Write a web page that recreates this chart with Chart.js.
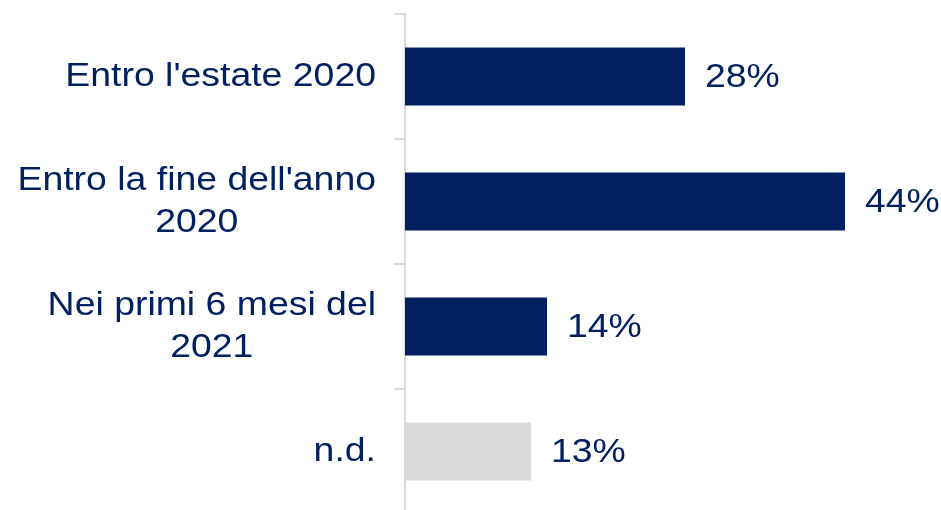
<!DOCTYPE html>
<html>
<head>
<meta charset="utf-8">
<script src="https://cdn.jsdelivr.net/npm/chart.js@4.4.0/dist/chart.umd.min.js"></script>
<style>
  html, body { margin: 0; padding: 0; background: #fff; overflow: hidden; }
  #wrap { width: 941px; height: 520px; }
</style>
</head>
<body>
<div id="wrap"><canvas id="barChart" width="941" height="520"></canvas></div>
<script>
// --- DATI ---
const categories = [
  ["Entro l'estate 2020"],
  ["Entro la fine dell'anno", "2020"],
  ["Nei primi 6 mesi del", "2021"],
  ["n.d."]
];
const values = [28, 44, 14.2, 12.6];
const barColors = ['#002060', '#002060', '#002060', '#D9D9D9'];

const NAVY = '#002060';
const FONT = "34px 'Liberation Sans', Arial, sans-serif";
const STRETCH = 1.1; // testo leggermente allargato come nell'originale

// etichette categorie: blocco allineato a destra, righe centrate tra loro
const catLabels = {
  id: 'catLabels',
  afterDraw(chart) {
    const ctx = chart.ctx;
    const y = chart.scales.y;
    const right = 376;
    const lh = 42;
    ctx.save();
    ctx.font = FONT;
    ctx.fillStyle = NAVY;
    ctx.textAlign = 'center';
    ctx.textBaseline = 'middle';
    categories.forEach((lines, i) => {
      const widest = Math.max(...lines.map(l => ctx.measureText(l).width)) * STRETCH;
      const cx = right - widest / 2;
      const cy = y.getPixelForValue(i);
      lines.forEach((line, j) => {
        const ly = cy + (j - (lines.length - 1) / 2) * lh;
        ctx.save();
        ctx.translate(cx, ly);
        ctx.scale(STRETCH, 1);
        ctx.fillText(line, 0, 0);
        ctx.restore();
      });
    });
    ctx.restore();
  }
};

// etichette valori a destra delle barre
const valueLabels = {
  id: 'valueLabels',
  afterDatasetsDraw(chart) {
    const ctx = chart.ctx;
    const meta = chart.getDatasetMeta(0);
    ctx.save();
    ctx.font = FONT;
    ctx.fillStyle = NAVY;
    ctx.textAlign = 'left';
    ctx.textBaseline = 'middle';
    meta.data.forEach((bar, i) => {
      ctx.save();
      ctx.translate(bar.x + 20, bar.y + 1);
      ctx.scale(STRETCH, 1);
      ctx.fillText(Math.round(values[i]) + '%', 0, 0);
      ctx.restore();
    });
    ctx.restore();
  }
};

new Chart(document.getElementById('barChart'), {
  type: 'bar',
  data: {
    labels: categories,
    datasets: [{
      data: values,
      backgroundColor: barColors,
      borderWidth: 0,
      barPercentage: 0.465,
      categoryPercentage: 1
    }]
  },
  options: {
    indexAxis: 'y',
    responsive: false,
    animation: false,
    layout: { padding: { top: 14, right: 36, bottom: 6, left: 0 } },
    plugins: { legend: { display: false }, tooltip: { enabled: false } },
    scales: {
      x: { display: false, min: 0, max: 50 },
      y: {
        afterFit: s => { s.width = 405; },
        ticks: { display: false },
        grid: { drawOnChartArea: false, drawTicks: true, tickLength: 11, color: '#D9D9D9', lineWidth: 2 },
        border: { color: '#D9D9D9', width: 2 }
      }
    }
  },
  plugins: [catLabels, valueLabels]
});
</script>
</body>
</html>
